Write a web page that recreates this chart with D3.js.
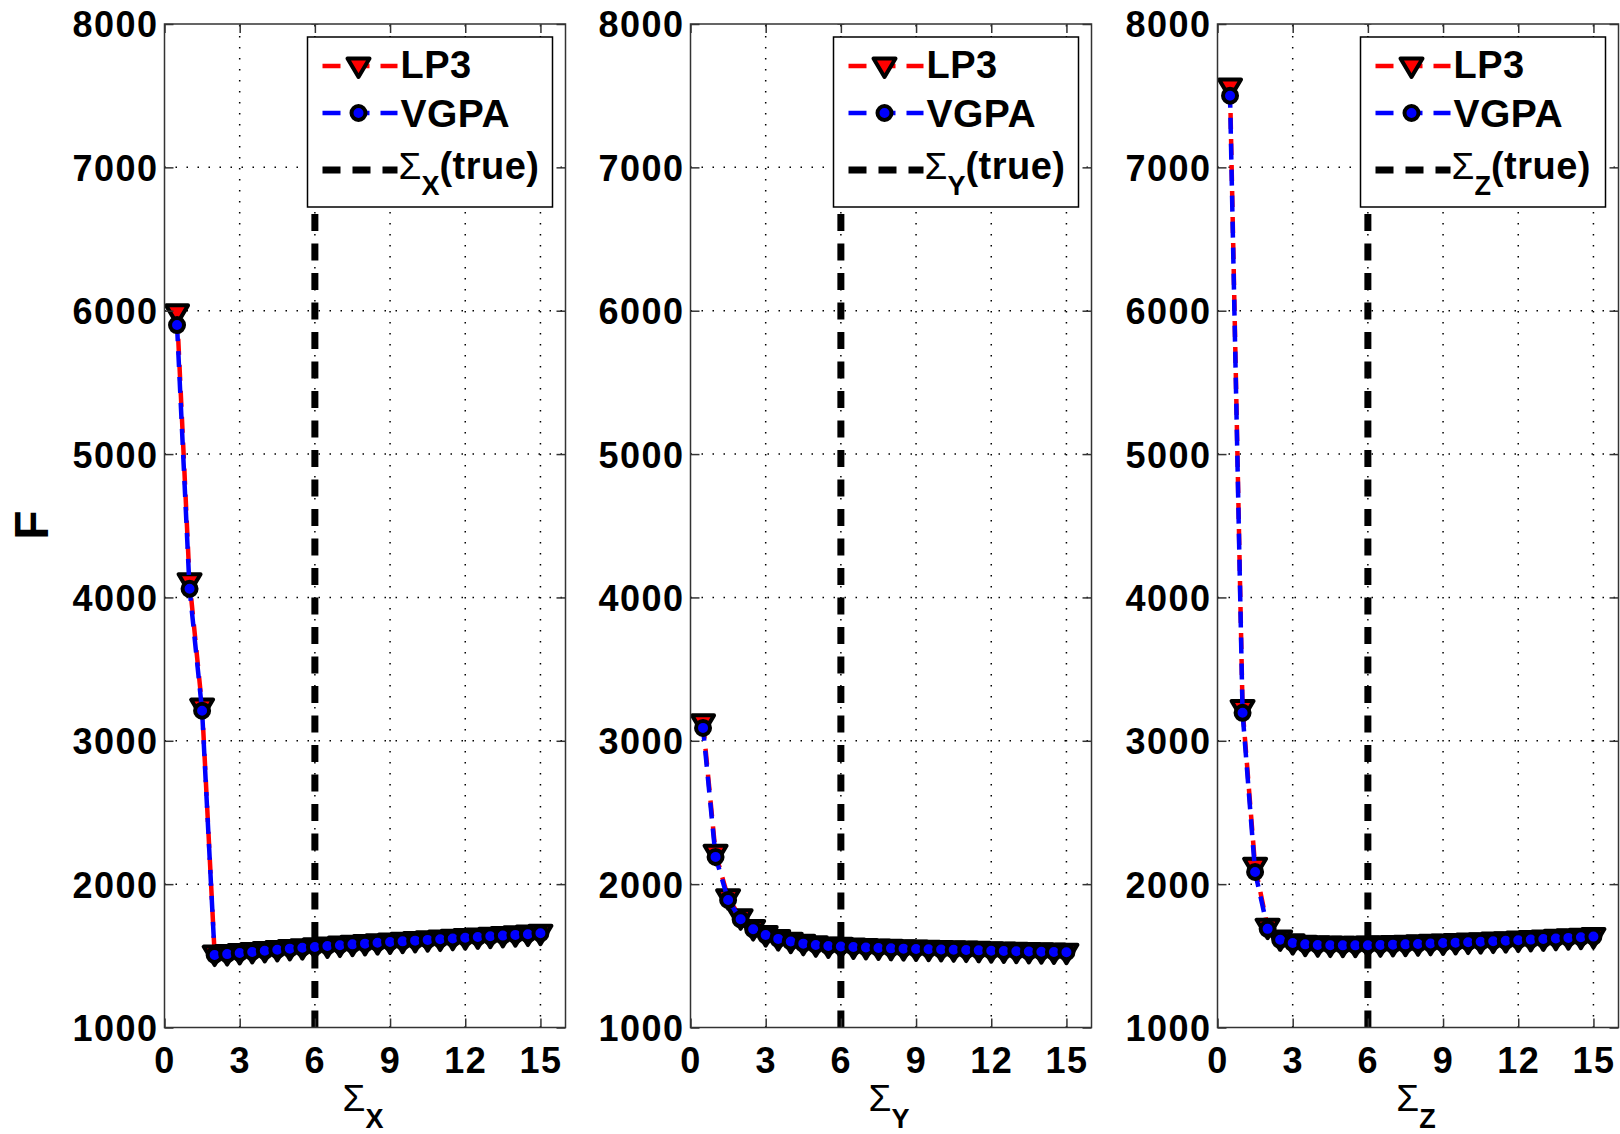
<!DOCTYPE html>
<html>
<head>
<meta charset="utf-8">
<script src="https://cdn.jsdelivr.net/npm/d3@7"></script>
<style>
  html, body { margin: 0; padding: 0; background: #fff; }
  svg { display: block; }
  text { font-family: "Liberation Sans", Arial, Helvetica, sans-serif; fill: #000; }
</style>
</head>
<body>
<svg id="chart" width="1620" height="1134"></svg>
<script>
// Sigma values at which the objective F was evaluated
const sigmaValues = [0.5, 1, 1.5, 2, 2.5, 3, 3.5, 4, 4.5, 5, 5.5, 6, 6.5, 7, 7.5,
                     8, 8.5, 9, 9.5, 10, 10.5, 11, 11.5, 12, 12.5, 13, 13.5, 14, 14.5, 15];

// Panel X
const lp3X  = [5985, 4110, 3235, 1512, 1516, 1523, 1530, 1537, 1544, 1551, 1557, 1563, 1569, 1575, 1581,
               1586, 1592, 1597, 1602, 1607, 1612, 1617, 1622, 1627, 1632, 1637, 1642, 1647, 1652, 1658];
const vgpaX = [5900, 4060, 3210, 1506, 1512, 1520, 1527, 1535, 1542, 1550, 1556, 1562, 1568, 1574, 1580,
               1585, 1591, 1596, 1601, 1606, 1611, 1616, 1621, 1626, 1631, 1636, 1641, 1646, 1651, 1657];
// Panel Y
const lp3Y  = [3125, 2215, 1905, 1765, 1690, 1648, 1620, 1602, 1587, 1577, 1569, 1566, 1562, 1558, 1555,
               1552, 1550, 1548, 1546, 1544, 1542, 1540, 1538, 1536, 1534, 1532, 1530, 1529, 1527, 1525];
const vgpaY = [3090, 2190, 1890, 1755, 1685, 1645, 1618, 1600, 1585, 1576, 1568, 1565, 1562, 1558, 1555,
               1552, 1550, 1548, 1546, 1544, 1542, 1540, 1538, 1536, 1534, 1532, 1530, 1529, 1527, 1525];
// Panel Z
const lp3Z  = [7560, 3225, 2125, 1700, 1618, 1592, 1581, 1577, 1575, 1574, 1574, 1575, 1577, 1579, 1581,
               1584, 1587, 1590, 1593, 1596, 1599, 1603, 1606, 1610, 1614, 1618, 1622, 1626, 1630, 1635];
const vgpaZ = [7500, 3195, 2085, 1688, 1612, 1590, 1580, 1576, 1574, 1573, 1573, 1574, 1576, 1578, 1580,
               1583, 1586, 1589, 1592, 1595, 1598, 1602, 1605, 1609, 1613, 1617, 1621, 1625, 1629, 1634];

// True sigma (vertical reference line) for each panel
const trueSigma = [6, 6, 6];
const subscripts = ["X", "Y", "Z"];

const xTicks = [0, 3, 6, 9, 12, 15];
const yTicks = [1000, 2000, 3000, 4000, 5000, 6000, 7000, 8000];
const xDomain = [0, 16];
const yDomain = [1000, 8000];
const seriesNames = ["LP3", "VGPA"];

const panels = [
  { lp3: lp3X, vgpa: vgpaX, sub: subscripts[0], truth: trueSigma[0], left: 164.5, offset: 0 },
  { lp3: lp3Y, vgpa: vgpaY, sub: subscripts[1], truth: trueSigma[1], left: 690.5, offset: 3 },
  { lp3: lp3Z, vgpa: vgpaZ, sub: subscripts[2], truth: trueSigma[2], left: 1217.5, offset: 4 }
];

const svg = d3.select("#chart");
const plotTop = 24, plotBottom = 1027.5, panelW = 401;
const tickFont = 36;

const y = d3.scaleLinear().domain(yDomain).range([plotBottom, plotTop]);

// downward triangle marker
const triPath = "M-11,-7.5 L11,-7.5 L0,11 Z";

panels.forEach((p, i) => {
  const x = d3.scaleLinear().domain(xDomain).range([p.left, p.left + panelW]);
  const g = svg.append("g");
  const right = p.left + panelW;

  // dotted grid
  const grid = g.append("g")
    .attr("stroke", "#000").attr("stroke-width", 1.5).attr("stroke-dasharray", "1.5,9.5");
  grid.selectAll("line.gx").data(xTicks.filter(t => t > xDomain[0])).join("line")
    .attr("x1", d => x(d)).attr("x2", d => x(d)).attr("y1", plotBottom).attr("y2", plotTop);
  grid.selectAll("line.gy").data(yTicks.filter(t => t > yDomain[0] && t < yDomain[1])).join("line")
    .attr("x1", p.left).attr("x2", right).attr("y1", d => y(d)).attr("y2", d => y(d));

  // true sigma line
  g.append("line")
    .attr("x1", x(p.truth)).attr("x2", x(p.truth)).attr("y1", plotBottom).attr("y2", plotTop)
    .attr("stroke", "#000").attr("stroke-width", 7).attr("stroke-dasharray", "17,12.5");

  const line = d3.line().x((d, j) => x(sigmaValues[j])).y(d => y(d));

  // LP3 series
  g.append("path").datum(p.lp3).attr("d", line)
    .attr("fill", "none").attr("stroke", "#ff0000").attr("stroke-width", 4.5)
    .attr("stroke-dasharray", "16,10");
  g.append("g").selectAll("path").data(p.lp3).join("path")
    .attr("transform", (d, j) => `translate(${x(sigmaValues[j])},${y(d)})`)
    .attr("d", triPath).attr("fill", "#ff0000").attr("stroke", "#000")
    .attr("stroke-width", 4).attr("stroke-linejoin", "round");

  // VGPA series
  g.append("path").datum(p.vgpa).attr("d", line)
    .attr("fill", "none").attr("stroke", "#0000ff").attr("stroke-width", 4.5)
    .attr("stroke-dasharray", "16,10").attr("stroke-dashoffset", p.offset);
  g.append("g").selectAll("circle").data(p.vgpa).join("circle")
    .attr("cx", (d, j) => x(sigmaValues[j])).attr("cy", d => y(d)).attr("r", 7)
    .attr("fill", "#0000ff").attr("stroke", "#000").attr("stroke-width", 4);

  // axes
  const axL = d3.axisLeft(y).tickValues(yTicks).tickSize(-9).tickPadding(6).tickFormat(d3.format("d"));
  const axB = d3.axisBottom(x).tickValues(xTicks).tickSize(-9).tickPadding(20).tickFormat(d3.format("d"));
  const axT = d3.axisTop(x).tickValues(xTicks).tickSize(-9).tickFormat("");
  const axR = d3.axisRight(y).tickValues(yTicks).tickSize(-9).tickFormat("");

  const styleAxis = sel => {
    sel.select(".domain").remove();
    sel.selectAll("line").attr("stroke", "#333").attr("stroke-width", 1.5);
    sel.selectAll("text").attr("font-size", tickFont).attr("font-weight", "bold")
      .attr("letter-spacing", 1.5)
      .attr("font-family", "'Liberation Sans', Arial, sans-serif").attr("fill", "#000");
  };
  g.append("g").attr("transform", `translate(${p.left},0)`).call(axL).call(styleAxis)
    .selectAll("text").attr("dy", "0.36em");
  g.append("g").attr("transform", `translate(0,${plotBottom})`).call(axB).call(styleAxis)
    .selectAll("text").attr("dy", "0.72em");
  g.append("g").attr("transform", `translate(0,${plotTop})`).call(axT).call(styleAxis);
  g.append("g").attr("transform", `translate(${right},0)`).call(axR).call(styleAxis);

  // frame
  g.append("rect").attr("x", p.left).attr("y", plotTop).attr("width", panelW).attr("height", plotBottom - plotTop)
    .attr("fill", "none").attr("stroke", "#333").attr("stroke-width", 1.5);

  // x label
  const xl = g.append("text").attr("x", p.left + panelW / 2 - 2).attr("y", 1111).attr("text-anchor", "middle");
  xl.append("tspan").attr("font-size", 37).text("Σ");
  xl.append("tspan").attr("font-size", 27).attr("font-weight", "bold").attr("dy", 17).text(p.sub);

  // legend
  const lgX = right - 258, lgY = 37, lgW = 245, lgH = 170;
  const lg = g.append("g");
  lg.append("rect").attr("x", lgX).attr("y", lgY).attr("width", lgW).attr("height", lgH)
    .attr("fill", "#fff").attr("stroke", "#000").attr("stroke-width", 1.5);
  const lx1 = lgX + 15, lx2 = lgX + 90, lm = lgX + 51, tx = lgX + 93;
  const rows = [66, 113, 170];
  // LP3 entry
  lg.append("line").attr("x1", lx1).attr("x2", lx2).attr("y1", rows[0]).attr("y2", rows[0])
    .attr("stroke", "#ff0000").attr("stroke-width", 4.5).attr("stroke-dasharray", "18,11");
  lg.append("path").attr("transform", `translate(${lm},${rows[0]})`).attr("d", triPath)
    .attr("fill", "#ff0000").attr("stroke", "#000").attr("stroke-width", 4).attr("stroke-linejoin", "round");
  lg.append("text").attr("x", tx).attr("y", rows[0] + 12).attr("font-size", 38).attr("font-weight", "bold")
    .attr("letter-spacing", 0.5).text(seriesNames[0]);
  // VGPA entry
  lg.append("line").attr("x1", lx1).attr("x2", lx2).attr("y1", rows[1]).attr("y2", rows[1])
    .attr("stroke", "#0000ff").attr("stroke-width", 4.5).attr("stroke-dasharray", "18,11");
  lg.append("circle").attr("cx", lm).attr("cy", rows[1]).attr("r", 7)
    .attr("fill", "#0000ff").attr("stroke", "#000").attr("stroke-width", 4);
  lg.append("text").attr("x", tx).attr("y", rows[1] + 14).attr("font-size", 39).attr("font-weight", "bold")
    .attr("letter-spacing", 0.5).text(seriesNames[1]);
  // true sigma entry
  lg.append("line").attr("x1", lx1).attr("x2", lx2).attr("y1", rows[2]).attr("y2", rows[2])
    .attr("stroke", "#000").attr("stroke-width", 7).attr("stroke-dasharray", "18,12");
  const lt = lg.append("text").attr("x", tx - 2).attr("y", rows[2] + 9);
  lt.append("tspan").attr("font-size", 37).text("Σ");
  lt.append("tspan").attr("font-size", 27).attr("font-weight", "bold").attr("dy", 16).text(p.sub);
  lt.append("tspan").attr("font-size", 38).attr("font-weight", "bold").attr("letter-spacing", 0.5)
    .attr("dy", -16).text("(true)");
});

// y label
svg.append("text").attr("transform", "translate(48,525) rotate(-90)")
  .attr("text-anchor", "middle").attr("font-size", 48).attr("font-weight", "bold").text("F");
</script>
</body>
</html>
